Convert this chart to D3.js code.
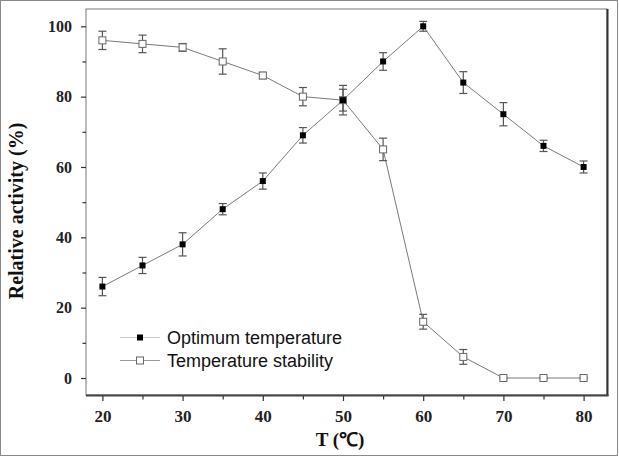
<!DOCTYPE html>
<html><head><meta charset="utf-8">
<script src="https://cdn.jsdelivr.net/npm/d3@7"></script>
<style>body{margin:0;background:#fff}svg{display:block}</style>
</head><body>
<script>
const temps = [20,25,30,35,40,45,50,55,60,65,70,75,80];
const optimum = [26,32,38,48,56,69,79,90,100,84,75,66,60];
const optimumErr = [2.6,2.3,3.3,1.6,2.3,2.2,3.1,2.5,1.4,3.1,3.3,1.6,1.7];
const stability = [96,95,94,90,86,80,79,65,16,6,0,0,0];
const stabilityErr = [2.6,2.5,1.1,3.6,0.9,2.6,4.2,3.2,2.1,2.1,0.2,0.2,0.2];
const xTicks = [20,30,40,50,60,70,80];
const yTicks = [0,20,40,60,80,100];
const seriesNames = ["Optimum temperature","Temperature stability"];

const W=619,H=457;
const svg=d3.select("body").append("svg").attr("width",W).attr("height",H);
svg.append("rect").attr("x",0.5).attr("y",0.5).attr("width",617).attr("height",455).attr("fill","#fff").attr("stroke","#8a8a8a");

const L=86,T=9,R=607,B=395;
const x=d3.scaleLinear().domain([20,80]).range([102.4,583.6]);
const y=d3.scaleLinear().domain([0,100]).range([378,26.3]);

// frame
svg.append("rect").attr("x",L).attr("y",T).attr("width",R-L).attr("height",B-T).attr("fill","#fff").attr("stroke","#777").attr("stroke-width",1);
svg.append("line").attr("x1",R+0.5).attr("x2",R+0.5).attr("y1",T).attr("y2",B+1).attr("stroke","#333").attr("stroke-width",2);
svg.append("line").attr("x1",L).attr("x2",R+1.5).attr("y1",B+0.5).attr("y2",B+0.5).attr("stroke","#444").attr("stroke-width",2);

// axes
const xAx=d3.axisBottom(x).tickValues(xTicks).tickSize(5).tickFormat(d3.format("d"));
const gx=svg.append("g").attr("transform",`translate(0,${B+1})`).call(xAx);
gx.select(".domain").remove();
gx.selectAll(".tick line").attr("stroke","#333").attr("stroke-width",1.2);
gx.selectAll(".tick text").attr("font-family","Liberation Serif").attr("font-weight","bold").attr("font-size",17).attr("fill","#222").attr("dy","1.05em");
const xMinor=d3.axisBottom(x).tickValues([25,35,45,55,65,75]).tickSize(3.5).tickFormat("");
const gx2=svg.append("g").attr("transform",`translate(0,${B+1})`).call(xMinor);
gx2.select(".domain").remove();
gx2.selectAll(".tick line").attr("stroke","#333").attr("stroke-width",1.2);

const yAx=d3.axisLeft(y).tickValues(yTicks).tickSize(5).tickFormat(d3.format("d"));
const gy=svg.append("g").attr("transform",`translate(${L},0)`).call(yAx);
gy.select(".domain").remove();
gy.selectAll(".tick line").attr("stroke","#333").attr("stroke-width",1.2);
gy.selectAll(".tick text").attr("font-family","Liberation Serif").attr("font-weight","bold").attr("font-size",16).attr("fill","#222").attr("x",-14);
const yMinor=d3.axisLeft(y).tickValues([10,30,50,70,90]).tickSize(3.5).tickFormat("");
const gy2=svg.append("g").attr("transform",`translate(${L},0)`).call(yMinor);
gy2.select(".domain").remove();
gy2.selectAll(".tick line").attr("stroke","#333").attr("stroke-width",1.2);

// titles
svg.append("text").attr("transform","translate(23,211) rotate(-90)").attr("text-anchor","middle")
  .attr("font-family","Liberation Serif").attr("font-weight","bold").attr("font-size",20).attr("fill","#111").text("Relative activity (%)");
svg.append("text").attr("x",340).attr("y",446).attr("text-anchor","middle")
  .attr("font-family","Liberation Serif").attr("font-weight","bold").attr("font-size",19).attr("fill","#111").text("T (℃)");

const line=d3.line().x(d=>x(d[0])).y(d=>y(d[1]));
function drawSeries(vals,errs,filled){
  const pts=temps.map((t,i)=>[t,vals[i],errs[i]]);
  svg.append("path").datum(pts).attr("d",line).attr("fill","none").attr("stroke","#7a7a7a").attr("stroke-width",1);
  const g=svg.append("g");
  pts.forEach(p=>{
    const cx=x(p[0]),y1=y(p[1]+p[2]),y2=y(p[1]-p[2]);
    g.append("line").attr("x1",cx).attr("x2",cx).attr("y1",y1).attr("y2",y2).attr("stroke","#555").attr("stroke-width",1.2);
    [y1,y2].forEach(yy=>g.append("line").attr("x1",cx-4).attr("x2",cx+4).attr("y1",yy).attr("y2",yy).attr("stroke","#555").attr("stroke-width",1.2));
  });
  pts.forEach(p=>{
    if(filled) g.append("rect").attr("x",x(p[0])-3).attr("y",y(p[1])-3).attr("width",6).attr("height",6).attr("fill","#000");
    else g.append("rect").attr("x",x(p[0])-3.5).attr("y",y(p[1])-3.5).attr("width",7).attr("height",7).attr("fill","#fff").attr("stroke","#666").attr("stroke-width",1);
  });
}
drawSeries(stability,stabilityErr,false);
drawSeries(optimum,optimumErr,true);

// legend
const legY=[337.5,360.5];
seriesNames.forEach((n,i)=>{
  const g=svg.append("g");
  g.append("line").attr("x1",120).attr("x2",160).attr("y1",legY[i]).attr("y2",legY[i]).attr("stroke",i?"#999":"#c8c8c8").attr("stroke-width",1);
  if(i===0) g.append("rect").attr("x",137).attr("y",legY[i]-3).attr("width",6).attr("height",6).attr("fill","#000");
  else g.append("rect").attr("x",136.5).attr("y",legY[i]-3.5).attr("width",7).attr("height",7).attr("fill","#fff").attr("stroke","#666");
  g.append("text").attr("x",167).attr("y",legY[i]+6.5).attr("font-family","Liberation Sans").attr("font-size",18).attr("fill","#111").text(n);
});
</script>
</body></html>
